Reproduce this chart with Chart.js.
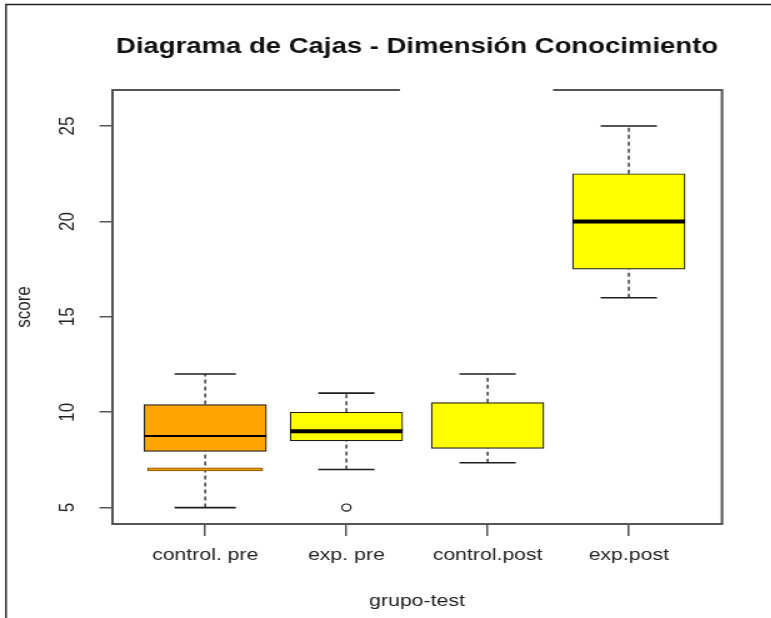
<!DOCTYPE html>
<html><head><meta charset="utf-8">
<script src="https://cdn.jsdelivr.net/npm/chart.js@4.4.1/dist/chart.umd.min.js"></script>
<style>
html,body{margin:0;padding:0;background:#fff;overflow:hidden;width:771px;height:618px}
#wrap{position:absolute;left:0;top:0;width:617px;height:618px;transform:scaleX(1.25);transform-origin:0 0}
canvas{display:block}
</style></head><body>
<div id="wrap"><canvas id="c" width="617" height="618"></canvas></div>
<script>
// ---- data ----
const categories = ['control. pre', 'exp. pre', 'control.post', 'exp.post'];
const whiskerLow  = [5,    7,   7.35, 16];
const q1          = [7.95, 8.5, 8.1,  17.5];
const median      = [8.75, 9,   null, 20];
const q3          = [10.4, 10,  10.5, 22.5];
const whiskerHigh = [12,   11,  12,   25];
const outlierGroup = [2];
const outlierValue = [5];
const extraMarkGroup = [1];
const extraMarkValue = [7];
const yTicks = [5, 10, 15, 20, 25];
const xTicks = [1, 2, 3, 4];
const titleText = 'Diagrama de Cajas - Dimensión Conocimiento';
const xTitle = 'grupo-test';
const yTitle = 'score';

// ---- styles ----
const boxFill = ['#FFA500', '#FFFF00', '#FFFF00', '#FFFF00'];
const boxPx = [98, 90, 90, 90];
const medianLW = [2, 4, 0, 4];
const ink = '#1e1e1e';
const axisGrey = '#555';

Chart.defaults.font.family = "'Liberation Sans', Arial, Helvetica, sans-serif";

const groups = xTicks;
const boxData = (idx) => idx.map(i => ({x: groups[i], y: [q1[i], q3[i]]}));

const boxExtras = {
  id: 'boxExtras',
  beforeDraw(chart) {
    const ctx = chart.ctx;
    ctx.save();
    ctx.strokeStyle = '#222';
    ctx.lineWidth = 1.4;
    ctx.beginPath();
    ctx.moveTo(4.8, 618); ctx.lineTo(4.8, 4.5); ctx.lineTo(617, 4.5);
    ctx.stroke();
    ctx.restore();
  },
  beforeDatasetsDraw(chart) {
    const {ctx, scales: {x, y}} = chart;
    ctx.save();
    ctx.strokeStyle = ink;
    ctx.lineWidth = 1.3;
    ctx.setLineDash([4, 3]);
    groups.forEach((g, i) => {
      const px = x.getPixelForValue(g);
      ctx.beginPath();
      ctx.moveTo(px, y.getPixelForValue(whiskerLow[i]));
      ctx.lineTo(px, y.getPixelForValue(q1[i]));
      ctx.moveTo(px, y.getPixelForValue(q3[i]));
      ctx.lineTo(px, y.getPixelForValue(whiskerHigh[i]));
      ctx.stroke();
    });
    ctx.restore();
  },
  afterDatasetsDraw(chart) {
    const {ctx, scales: {x, y}} = chart;
    ctx.save();
    ctx.strokeStyle = ink;
    groups.forEach((g, i) => {
      const px = x.getPixelForValue(g);
      const half = boxPx[i] / 2;
      const capHalf = boxPx[i] / 4;
      ctx.lineWidth = 1.6;
      [whiskerLow[i], whiskerHigh[i]].forEach(v => {
        const py = y.getPixelForValue(v);
        ctx.beginPath(); ctx.moveTo(px - capHalf, py); ctx.lineTo(px + capHalf, py); ctx.stroke();
      });
      if (median[i] !== null && medianLW[i] > 0) {
        const py = y.getPixelForValue(median[i]);
        ctx.lineWidth = medianLW[i];
        ctx.strokeStyle = '#000';
        ctx.beginPath(); ctx.moveTo(px - half, py); ctx.lineTo(px + half, py); ctx.stroke();
        ctx.strokeStyle = ink;
      }
    });
    ctx.restore();
  },
  afterDraw(chart) {
    const {ctx, chartArea: a, scales: {y}} = chart;
    ctx.save();
    // plot frame: top (with gap) and right
    ctx.strokeStyle = axisGrey;
    ctx.lineWidth = 2;
    const w = a.right - a.left;
    ctx.beginPath();
    ctx.moveTo(a.left, a.top); ctx.lineTo(a.left + w * 0.472, a.top);
    ctx.moveTo(a.left + w * 0.723, a.top); ctx.lineTo(a.right, a.top);
    ctx.lineTo(a.right, a.bottom);
    ctx.stroke();
    // rotated y tick labels
    ctx.fillStyle = '#222';
    ctx.font = "17px 'Liberation Sans', Arial, sans-serif";
    ctx.textAlign = 'center';
    ctx.textBaseline = 'middle';
    yTicks.forEach(v => {
      const py = y.getPixelForValue(v);
      ctx.save();
      ctx.translate(54, py);
      ctx.rotate(-Math.PI / 2);
      ctx.fillText(String(v), 0, 0);
      ctx.restore();
    });
    ctx.restore();
  }
};

new Chart(document.getElementById('c'), {
  type: 'bar',
  data: {
    datasets: [
      {
        label: categories[0],
        data: boxData([0]),
        backgroundColor: boxFill[0],
        borderColor: ink,
        borderWidth: 1.2,
        borderSkipped: false,
        barThickness: boxPx[0],
        grouped: false,
        order: 2
      },
      {
        label: 'boxes',
        data: boxData([1, 2, 3]),
        backgroundColor: [boxFill[1], boxFill[2], boxFill[3]],
        borderColor: ink,
        borderWidth: 1.2,
        borderSkipped: false,
        barThickness: boxPx[1],
        grouped: false,
        order: 2
      },
      {
        label: 'mark',
        data: extraMarkGroup.map((g, i) => ({x: g, y: [extraMarkValue[i] - 0.08, extraMarkValue[i] + 0.08]})),
        backgroundColor: '#F0A000',
        borderColor: '#7a4a00',
        borderWidth: 1,
        borderSkipped: false,
        barThickness: 92,
        grouped: false,
        order: 1
      },
      {
        type: 'scatter',
        label: 'outliers',
        data: outlierGroup.map((g, i) => ({x: g, y: outlierValue[i]})),
        pointRadius: 3.6,
        pointBackgroundColor: '#fff',
        pointBorderColor: ink,
        pointBorderWidth: 1.2,
        showLine: false,
        order: 0
      }
    ]
  },
  options: {
    responsive: false,
    animation: false,
    devicePixelRatio: 1,
    layout: {padding: {left: 0, right: 39.4, top: 0, bottom: 0}},
    plugins: {
      legend: {display: false},
      tooltip: {enabled: false},
      title: {
        display: true,
        text: titleText,
        fullSize: false,
        color: '#111',
        font: {size: 22, weight: 'bold'},
        padding: {top: 34, bottom: 29.6}
      }
    },
    scales: {
      x: {
        type: 'linear',
        min: 0.34,
        max: 4.66,
        offset: false,
        afterBuildTicks: s => { s.ticks = xTicks.map(v => ({value: v})); },
        afterFit: s => { s.height = 94; },
        ticks: {
          callback: v => categories[Math.round(v) - 1],
          font: {size: 17},
          color: '#222',
          padding: 9,
          autoSkip: false,
          maxRotation: 0
        },
        grid: {display: true, drawOnChartArea: false, drawTicks: true, tickLength: 12, color: axisGrey, lineWidth: 1.5, offset: false},
        border: {display: true, color: axisGrey, width: 2},
        title: {display: true, text: xTitle, font: {size: 17}, color: '#222', padding: {top: 6, bottom: 6}}
      },
      y: {
        type: 'linear',
        min: 4.14,
        max: 26.89,
        afterBuildTicks: s => { s.ticks = yTicks.map(v => ({value: v})); },
        afterFit: s => { s.width = 89.6; },
        ticks: {display: false},
        grid: {display: true, drawOnChartArea: false, drawTicks: true, tickLength: 10, color: axisGrey, lineWidth: 1.5},
        border: {display: true, color: axisGrey, width: 2},
        title: {display: true, text: yTitle, font: {size: 17}, color: '#222', padding: {top: 9, bottom: 9}}
      }
    }
  },
  plugins: [boxExtras]
});
</script>
</body></html>
